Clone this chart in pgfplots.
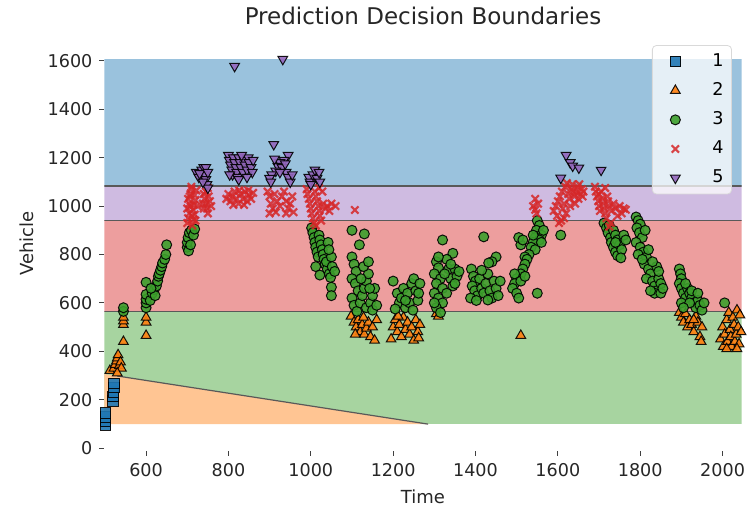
\documentclass[border=0pt]{standalone}
\usepackage{fontspec}
\setmainfont{DejaVu Sans}
\usepackage{pgfplots}
\pgfplotsset{compat=1.18}
\definecolor{c1}{HTML}{1F77B4}
\definecolor{c2}{HTML}{FF7F0E}
\definecolor{c3}{HTML}{3CA02C}
\definecolor{c4}{HTML}{D62728}
\definecolor{c5}{HTML}{9467BD}
\definecolor{r1}{RGB}{154,194,221}
\definecolor{r2}{RGB}{255,197,147}
\definecolor{r3}{RGB}{167,212,160}
\definecolor{r4}{RGB}{237,158,158}
\definecolor{r5}{RGB}{207,187,225}
\begin{document}
\begin{tikzpicture}
\begin{axis}[
  name=ax,
  scale only axis, width=318.5pt, height=207.5pt,
  xmin=499, xmax=2046, ymin=-12, ymax=1703,
  axis line style={draw=none},
  xtick={600,800,...,2000}, ytick={0,200,...,1600},
  xtick pos=lower, ytick pos=left, tick align=outside,
  major tick length=2.5pt,
  tick style={black!75, line width=0.5pt},
  /pgf/number format/1000 sep={},
  /pgf/number format/assume math mode=true,
  tick label style={font=\fontsize{8.8}{10}\selectfont, text=black!85},
  label style={font=\fontsize{9}{10}\selectfont, text=black!85},
  xlabel={Time}, ylabel={Vehicle},
  title={Prediction Decision Boundaries},
  title style={font=\fontsize{11.5}{13}\selectfont, text=black!85, yshift=-4pt},
  legend style={at={(rel axis cs:0.985,0.978)}, anchor=north east,
    draw=black!15, fill=white, fill opacity=0.75, draw opacity=1, text opacity=1,
    rounded corners=2pt, font=\fontsize{8.8}{10}\selectfont, row sep=2.6pt, inner xsep=2pt},
  legend cell align=left,
  legend image code/.code={\path[draw=none] (0pt,0pt) -- (26pt,0pt); \draw[#1,draw=none] plot coordinates {(9.5pt,0pt)};},
]
% decision regions
\addplot[forget plot, draw=none, fill=r1] coordinates {(499,1083) (2046,1083) (2046,1607) (499,1607)} -- cycle;
\addplot[forget plot, draw=none, fill=r5] coordinates {(499,942) (2046,942) (2046,1083) (499,1083)} -- cycle;
\addplot[forget plot, draw=none, fill=r4] coordinates {(499,563) (2046,563) (2046,942) (499,942)} -- cycle;
\addplot[forget plot, draw=none, fill=r3] coordinates {(499,99) (2046,99) (2046,563) (499,563)} -- cycle;
\addplot[forget plot, draw=none, fill=r2] coordinates {(499,99) (1285,99) (530,298) (499,306)} -- cycle;
\addplot[forget plot, black!65, line width=0.6pt] coordinates {(499,1083) (2046,1083)};
\addplot[forget plot, black!65, line width=0.6pt] coordinates {(499,942) (2046,942)};
\addplot[forget plot, black!65, line width=0.6pt] coordinates {(499,563) (2046,563)};
\addplot[forget plot, black!65, line width=0.6pt] coordinates {(530,298) (1285,99)};
% class 1
\addplot[only marks, mark=square*, mark size=2.6pt, mark options={fill=c1, draw=black, line width=0.5pt, opacity=0.9}] coordinates {
(502,95) (502,110) (502,128) (502,145) (520,195) (520,212) (521,232) (522,250) (522,268)
};
\addlegendentry{1}
% class 2
\addplot[only marks, mark=triangle*, mark size=2.8pt, mark options={fill=c2, draw=black, line width=0.5pt, opacity=0.9}] coordinates {
(512,320) (522,330) (525,345) (528,360) (530,372) (532,385) (535,340) (538,355) (540,330) (530,310) (545,440)
(545,510) (545,525) (545,540) (600,465) (600,520) (600,540)
(1098,545) (1105,520) (1110,500) (1115,530) (1120,480) (1125,510) (1130,470) (1135,495) (1140,520) (1145,460) (1150,500) (1155,445) (1160,530) (1108,470) (1128,540)
(1195,450) (1200,500) (1205,530) (1210,480) (1215,510) (1220,460) (1225,540) (1230,490) (1235,520) (1240,470) (1245,500) (1250,445) (1255,530) (1260,480) (1265,510) (1212,545) (1262,455)
(1305,555) (1310,545) (1510,465)
(1895,560) (1900,540) (1905,520) (1910,555) (1915,500) (1920,530) (1925,510) (1930,480) (1935,545) (1940,520) (1945,460) (1950,500) (1948,440) (1930,530)
(1995,450) (2000,500) (2002,420) (2005,470) (2010,530) (2012,440) (2015,560) (2018,490) (2020,460) (2022,420) (2025,540) (2028,510) (2030,440) (2033,470) (2035,570) (2038,500) (2040,430) (2042,550) (2045,480) (2047,520) (2010,410) (2035,410)
};
\addlegendentry{2}
% class 3
\addplot[only marks, mark=*, mark size=2.5pt, mark options={fill=c3, draw=black, line width=0.5pt, opacity=0.9}] coordinates {
(545,565) (545,580)
(600,580) (600,600) (600,615) (600,635) (600,685)
(610,610) (615,640) (620,655) (622,630) (625,670) (628,690) (630,710) (632,720) (635,735) (638,750) (640,765) (645,780) (648,800) (650,840) (612,660)
(700,830) (700,850) (702,870) (705,890) (710,900) (715,880) (718,905) (703,815) (708,840)
(1002,910) (1005,890) (1008,870) (1010,850) (1012,830) (1015,810) (1018,790) (1020,880) (1022,860) (1025,840) (1028,820) (1030,800) (1032,780) (1035,760) (1040,740) (1045,720) (1048,705) (1038,770) (1042,850) (1050,790) (1044,820) (1052,750) (1050,665) (1050,630) (1012,750) (1022,715) (1058,730)
(1100,900) (1130,885) (1118,840) (1100,790) (1105,760) (1110,730) (1100,700) (1108,680) (1115,650) (1100,620) (1105,590) (1112,565) (1120,600) (1125,630) (1130,660) (1135,690) (1140,720) (1128,750) (1135,580) (1145,600) (1150,630) (1155,660) (1150,570) (1160,590) (1140,770) (1122,700) (1143,660)
(1200,690) (1210,640) (1215,600) (1220,620) (1225,660) (1230,580) (1235,640) (1240,600) (1245,680) (1250,700) (1255,650) (1260,610) (1265,680) (1248,570) (1205,575) (1262,640) (1230,610)
(1320,860) (1345,805) (1305,770) (1310,745) (1300,720) (1315,700) (1305,680) (1320,660) (1300,640) (1310,620) (1320,600) (1305,580) (1315,560) (1330,780) (1335,740) (1340,700) (1345,670) (1350,740) (1355,710) (1330,640) (1310,790) (1325,720) (1300,600) (1340,760) (1360,730) (1350,680)
(1420,873) (1450,790) (1440,770) (1432,765) (1390,740) (1395,710) (1400,690) (1392,670) (1398,650) (1405,630) (1410,700) (1415,660) (1420,640) (1425,680) (1430,720) (1435,650) (1440,620) (1445,690) (1450,660) (1455,630) (1460,690) (1388,620) (1402,610) (1430,612) (1415,735)
(1550,940) (1555,920) (1548,900) (1560,880) (1545,870) (1555,860) (1540,850) (1535,830) (1545,820) (1530,800) (1520,790) (1510,840) (1505,870) (1515,860) (1525,780) (1520,760) (1515,740) (1510,720) (1500,700) (1495,680) (1490,660) (1500,640) (1505,620) (1495,720) (1510,690) (1520,710) (1550,640) (1540,880) (1565,900) (1560,850)
(1607,880)
(1712,930) (1718,910) (1722,890) (1728,870) (1730,850) (1735,830) (1740,810) (1745,795) (1725,920) (1735,900) (1740,880) (1745,860) (1750,840) (1755,820) (1740,850) (1760,880) (1765,860) (1753,786)
(1790,955) (1795,940) (1800,925) (1792,910) (1798,890) (1805,870) (1790,850) (1800,830) (1808,810) (1795,800) (1815,790) (1810,760) (1820,740) (1825,720) (1815,700) (1830,690) (1835,670) (1840,650) (1845,700) (1850,680) (1835,640) (1840,750) (1830,770) (1820,820) (1845,730) (1850,640) (1855,660) (1825,650) (1805,780) (1812,900)
(1895,740) (1898,720) (1900,700) (1895,680) (1900,660) (1905,640) (1910,620) (1900,600) (1915,660) (1920,640) (1925,620) (1930,600) (1935,580) (1940,610) (1945,590) (1950,570) (1910,680) (1920,600) (1925,650) (1905,580) (1940,640) (1955,600)
(2005,600)
};
\addlegendentry{3}
% class 4
\addplot[only marks, mark=x, mark size=2.6pt, mark options={draw=c4, line width=1.1pt, opacity=0.85}] coordinates {
(700,930) (702,950) (705,970) (700,990) (705,1010) (702,1030) (708,1050) (710,1070) (712,920) (715,945) (718,965) (714,985) (716,1005) (720,1025) (718,1045) (722,1065) (708,1000) (712,960) (706,1040) (725,1000) (720,940) (710,1080)
(740,1050) (742,1030) (745,1010) (748,990) (750,970) (752,1040) (755,1020) (745,1060) (740,990) (750,1075) (758,1000) (738,1010)
(795,1030) (800,1050) (805,1020) (810,1040) (815,1060) (820,1030) (825,1010) (830,1050) (835,1030) (840,1060) (845,1020) (850,1045) (855,1030) (860,1055) (812,1005) (838,1005) (826,1065) (848,1065)
(895,1060) (900,1040) (903,1010) (908,990) (900,970) (912,1050) (918,1020) (925,1000) (930,1040) (935,1060) (940,1020) (945,990) (950,1010) (955,1040) (958,975) (915,975) (940,970)
(990,1070) (992,1050) (995,1030) (998,1010) (1000,990) (1002,970) (1005,950) (1008,930) (1010,1060) (1012,1040) (1015,1020) (1018,1000) (1020,980) (1022,960) (1025,940) (1030,1010) (1035,990) (1040,1000) (1045,980) (1050,1010) (1060,1000) (1028,1060) (1012,920) (1020,1075)
(1107,984)
(1540,1000) (1545,1030) (1548,970) (1552,1010) (1545,985)
(1590,980) (1595,1000) (1598,960) (1600,1020) (1605,1040) (1608,940) (1610,1060) (1612,990) (1615,1010) (1618,1080) (1620,970) (1625,1050) (1628,1030) (1630,1000) (1632,1070) (1635,1090) (1640,1040) (1642,1010) (1645,1060) (1648,1080) (1650,1030) (1655,1050) (1658,1070) (1660,1040) (1603,930) (1615,950) (1622,1095) (1638,1060) (1652,1090) (1662,1060)
(1690,1080) (1692,1060) (1695,1040) (1698,1020) (1700,1000) (1702,980) (1705,1060) (1708,1030) (1710,1010) (1712,990) (1715,970) (1718,950) (1720,1040) (1722,1020) (1725,1000) (1728,930) (1730,980) (1735,1010) (1740,990) (1745,960) (1750,1000) (1755,970) (1760,990) (1765,985) (1715,1075) (1725,915) (1700,1050)
};
\addlegendentry{4}
% class 5
\addplot[only marks, mark=triangle*, mark size=2.8pt, mark options={rotate=180, fill=c5, draw=black, line width=0.5pt, opacity=0.9}] coordinates {
(815,1578) (932,1607)
(722,1140) (728,1120) (735,1150) (740,1160) (742,1130) (745,1110) (748,1090) (750,1075) (745,1160) (738,1100) (730,1135) (750,1140)
(800,1210) (802,1190) (805,1170) (808,1150) (810,1130) (812,1200) (815,1180) (818,1160) (820,1140) (822,1120) (825,1200) (828,1180) (830,1160) (835,1140) (838,1190) (840,1170) (845,1150) (848,1200) (850,1180) (855,1160) (858,1140) (860,1190) (803,1130) (825,1110) (845,1120) (832,1210)
(910,1255) (945,1210) (935,1190) (925,1180) (920,1165) (930,1160) (915,1145) (905,1130) (900,1115) (903,1100) (940,1140) (945,1120) (950,1100) (938,1175) (912,1195) (925,1140) (955,1130)
(995,1120) (998,1100) (1000,1090) (1005,1130) (1010,1150) (1015,1115) (1020,1140) (1022,1100)
(1620,1210) (1630,1180) (1636,1166) (1651,1158) (1607,1116) (1705,1149)
};
\addlegendentry{5}
\end{axis}
\pgfresetboundingbox
\path[use as bounding box] ([xshift=-52.25pt,yshift=-28pt]ax.south west) rectangle ++(374pt,253.5pt);
\end{tikzpicture}
\end{document}
